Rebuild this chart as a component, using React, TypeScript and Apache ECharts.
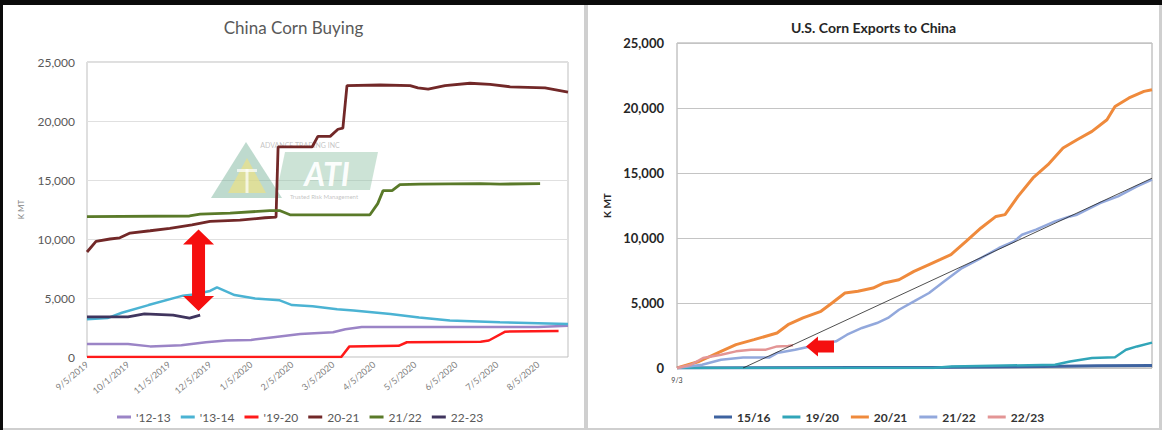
import React, { useEffect, useRef } from "react";
import * as echarts from "echarts";

const FONT = "Lato, 'Open Sans', 'DejaVu Sans', sans-serif";

type Pt = [number, number];

// ---------- China Corn Buying ----------
// x is measured in tick-label steps starting at 9/5/2019
const buyingTickLabels = [
  "9/5/2019", "10/1/2019", "11/5/2019", "12/5/2019", "1/5/2020", "2/5/2020",
  "3/5/2020", "4/5/2020", "5/5/2020", "6/5/2020", "7/5/2020", "8/5/2020",
];
const buyingXMax = 11.73;

const buying1213: Pt[] = [
  [0, 1100], [1.0, 1100], [1.54, 900], [2.3, 1000], [2.9, 1250], [3.4, 1400],
  [4.0, 1450], [4.6, 1700], [5.2, 1950], [6.0, 2100], [6.3, 2350], [6.7, 2550],
  [11.0, 2550], [11.73, 2650],
];
const buying1314: Pt[] = [
  [0, 3200], [0.5, 3300], [0.85, 3750], [1.5, 4400], [2.34, 5200], [2.6, 5300],
  [3.0, 5600], [3.17, 5900], [3.6, 5250], [4.1, 4950], [4.7, 4800], [5.0, 4400],
  [5.5, 4300], [6.1, 4050], [6.5, 3950], [7.4, 3650], [8.1, 3350], [8.85, 3100],
  [10.07, 2950], [11.73, 2800],
];
const buying1920: Pt[] = [
  [0, 0], [6.2, 0], [6.4, 900], [7.6, 950], [7.8, 1250], [9.6, 1300],
  [9.8, 1400], [10.2, 2150], [11.5, 2200],
];
const buying2021: Pt[] = [
  [0, 8900], [0.22, 9800], [0.56, 10000], [0.8, 10100], [1.05, 10500],
  [1.54, 10700], [2.02, 10900], [2.56, 11200], [3.0, 11500], [3.73, 11600],
  [4.34, 11800], [4.61, 11850], [4.66, 17800], [5.49, 17800], [5.63, 18700],
  [5.93, 18700], [6.12, 19300], [6.24, 19400], [6.34, 23000], [7.15, 23050],
  [7.88, 23000], [8.07, 22800], [8.32, 22700], [8.73, 23000], [9.34, 23200],
  [9.83, 23100], [10.32, 22900], [11.17, 22800], [11.73, 22450],
];
const buying2122: Pt[] = [
  [0, 11900], [2.5, 11950], [2.76, 12100], [3.49, 12200], [4.46, 12400],
  [4.71, 12400], [4.95, 12050], [6.9, 12050], [7.09, 13000], [7.22, 14100],
  [7.44, 14100], [7.63, 14600], [8.12, 14650], [9.59, 14700], [10.07, 14650],
  [11.05, 14700],
];
const buying2223: Pt[] = [
  [0, 3400], [1.0, 3400], [1.4, 3650], [2.1, 3550], [2.5, 3300], [2.76, 3550],
];

// double-headed arrow spanning the gap between 20-21 and '13-14
const gapArrow = { x: 2.72, top: 10800, bottom: 3900 };

// ---------- U.S. Corn Exports to China ----------
// x is weeks since 9/3
const exportTickLabels = ["9/3"];
const exportWeeks = 52;

const exports1516: Pt[] = [[0, 0], [30, 50], [40, 120], [46, 180], [52, 200]];
const exports1920: Pt[] = [
  [0, 0], [28, 0], [30, 120], [41.38, 250], [43.02, 500], [45.43, 770],
  [47.95, 820], [49.15, 1400], [50.36, 1660], [52, 1950],
];
const exports2021: Pt[] = [
  [0, 0], [2.41, 500], [4.82, 1280], [6.46, 1800], [8.43, 2180], [10.95, 2690],
  [12.15, 3330], [13.79, 3850], [15.76, 4360], [16.97, 5000], [18.39, 5770],
  [19.81, 5900], [21.46, 6150], [22.66, 6540], [24.3, 6790], [25.94, 7430],
  [27.59, 7950], [28.79, 8330], [29.99, 8720], [31.64, 9740], [33.28, 10770],
  [34.92, 11660], [35.91, 11800], [37.33, 13200], [38.97, 14620], [40.61, 15640],
  [42.26, 16920], [43.79, 17560], [45.43, 18200], [47.07, 19100], [47.95, 20120],
  [49.48, 20770], [51.12, 21280], [52, 21410],
];
const exports2122: Pt[] = [
  [0, 0], [2.74, 250], [4.82, 640], [7.23, 800], [10.07, 800], [10.95, 1150],
  [12.92, 1400], [14.56, 1660], [17.41, 2050], [18.61, 2560], [20.25, 3080],
  [21.89, 3460], [23.1, 3850], [24.3, 4480], [25.94, 5120], [27.59, 5770],
  [29.23, 6660], [31.2, 7690], [33.28, 8460], [35.25, 9230], [36.89, 9740],
  [37.77, 10250], [39.3, 10640], [41.38, 11280], [43.02, 11660], [43.79, 11790],
  [46.31, 12690], [48.28, 13200], [50.36, 13970], [52, 14490],
];
const exports2223: Pt[] = [
  [0, 0], [1.53, 250], [2.85, 770], [4.82, 1020], [6.46, 1280], [8.1, 1410],
  [9.74, 1410], [10.95, 1660], [12.15, 1700], [12.7, 1750],
];
const exportTrend: Pt[] = [[7.23, 0], [52, 14600]];

// left-pointing arrow marking the current season
const pointerArrow = { x: 14.12, y: 1660 };

const line = (name: string, data: Pt[], color: string, width: number) => ({
  type: "line",
  name,
  data,
  showSymbol: false,
  symbol: "none",
  silent: true,
  lineStyle: { color, width },
  itemStyle: { color },
  z: 3,
});

const thousands = (v: number) => v.toLocaleString("en-US");

const buyingOption = {
  animation: false,
  textStyle: { fontFamily: FONT },
  title: {
    text: "China Corn Buying",
    left: "center",
    top: 9,
    textStyle: { fontFamily: FONT, fontSize: 17, fontWeight: "normal", color: "#595959" },
  },
  grid: { left: 84, top: 57, width: 481, height: 295, show: true, borderColor: "#bfbfbf", borderWidth: 1 },
  xAxis: {
    type: "value",
    min: 0,
    max: buyingXMax,
    interval: 1,
    axisLine: { show: false },
    axisTick: { show: false },
    splitLine: { show: false },
    axisLabel: {
      rotate: 40,
      fontSize: 9,
      color: "#7f7f7f",
      margin: 6,
      showMaxLabel: false,
      formatter: (v: number) => (Number.isInteger(v) ? buyingTickLabels[v] ?? "" : ""),
    },
  },
  yAxis: {
    type: "value",
    min: 0,
    max: 25000,
    interval: 5000,
    name: "K MT",
    nameLocation: "middle",
    nameGap: 62,
    nameTextStyle: { fontSize: 8, color: "#7f7f7f" },
    axisLine: { show: false },
    axisTick: { show: false },
    splitLine: { lineStyle: { color: "#e0e0e0" } },
    axisLabel: { fontSize: 12, color: "#595959", margin: 12, formatter: thousands },
  },
  legend: {
    left: 109,
    top: 401,
    icon: "rect",
    itemWidth: 14,
    itemHeight: 3,
    itemGap: 10,
    textStyle: { fontFamily: FONT, fontSize: 12, color: "#595959" },
    data: ["'12-13", "'13-14", "'19-20", "20-21", "21/22", "22-23"],
  },
  series: [
    line("'12-13", buying1213, "#9b84c6", 2.5),
    line("'13-14", buying1314, "#4bb3d3", 2.5),
    line("'19-20", buying1920, "#ff1a1a", 2.5),
    line("20-21", buying2021, "#722828", 2.8),
    line("21/22", buying2122, "#5a7a29", 2.8),
    line("22-23", buying2223, "#40355e", 2.8),
  ],
};

const exportsOption = {
  animation: false,
  textStyle: { fontFamily: FONT },
  title: {
    text: "U.S. Corn Exports to China",
    left: "center",
    top: 10,
    textStyle: { fontFamily: FONT, fontSize: 14, fontWeight: "bold", color: "#262626" },
  },
  grid: { left: 89, top: 38, width: 475, height: 325, show: true, borderColor: "#a6a6a6", borderWidth: 1 },
  xAxis: {
    type: "value",
    min: 0,
    max: exportWeeks,
    interval: exportWeeks,
    axisLine: { show: false },
    axisTick: { show: false },
    splitLine: { show: false },
    axisLabel: {
      fontSize: 7,
      color: "#404040",
      margin: 8,
      showMaxLabel: false,
      formatter: (v: number) => (v === 0 ? exportTickLabels[0] : ""),
    },
  },
  yAxis: {
    type: "value",
    min: 0,
    max: 25000,
    interval: 5000,
    name: "K MT",
    nameLocation: "middle",
    nameGap: 60,
    nameTextStyle: { fontSize: 10, fontWeight: "bold", color: "#262626" },
    axisLine: { show: false },
    axisTick: { show: false },
    splitLine: { lineStyle: { color: "#c4c4c4" } },
    axisLabel: { fontSize: 13, fontWeight: "bold", color: "#262626", margin: 13, formatter: thousands },
  },
  legend: {
    left: 121,
    top: 401,
    icon: "rect",
    itemWidth: 18,
    itemHeight: 3,
    itemGap: 12,
    textStyle: { fontFamily: FONT, fontSize: 12, fontWeight: "bold", color: "#333333" },
    data: ["15/16", "19/20", "20/21", "21/22", "22/23"],
  },
  series: [
    line("15/16", exports1516, "#3e63a0", 3),
    line("19/20", exports1920, "#31a5b8", 2.5),
    line("20/21", exports2021, "#ef8a3c", 3),
    line("21/22", exports2122, "#92a8dc", 2.5),
    line("22/23", exports2223, "#e39595", 2.5),
    { ...line("trend", exportTrend, "#222222", 0.8), z: 4 },
  ],
};

// faint company logo sitting behind the left plot
const watermark = () => ({
  type: "group",
  silent: true,
  z: 1,
  children: [
    { type: "polygon", shape: { points: [[243, 137], [208, 193], [279, 193]] }, style: { fill: "#6fae93", opacity: 0.45 } },
    { type: "polygon", shape: { points: [[244, 153], [225, 188], [263, 188]] }, style: { fill: "#f3e37a", opacity: 0.6 } },
    { type: "rect", shape: { x: 234, y: 164, width: 20, height: 3 }, style: { fill: "#ffffff", opacity: 0.7 } },
    { type: "rect", shape: { x: 242.5, y: 164, width: 3, height: 24 }, style: { fill: "#ffffff", opacity: 0.7 } },
    { type: "polygon", shape: { points: [[282, 147], [375, 147], [367, 185], [274, 185]] }, style: { fill: "#8fc1a5", opacity: 0.45 } },
    {
      type: "text",
      x: 324,
      y: 168,
      style: { text: "ATI", fill: "#ffffff", opacity: 0.95, fontSize: 32, fontWeight: "bold", fontStyle: "italic", fontFamily: FONT, align: "center", verticalAlign: "middle" },
    },
    {
      type: "text",
      x: 297,
      y: 140,
      style: { text: "ADVANCE TRADING INC", fill: "#9a9a9a", opacity: 0.6, fontSize: 7, fontFamily: FONT, align: "center", verticalAlign: "middle" },
    },
    {
      type: "text",
      x: 321,
      y: 191,
      style: { text: "Trusted Risk Management", fill: "#9a9a9a", opacity: 0.6, fontSize: 6, fontFamily: FONT, align: "center", verticalAlign: "middle" },
    },
  ],
});

const buyingOverlay = (chart: any) => {
  const [cx, t] = chart.convertToPixel({ gridIndex: 0 }, [gapArrow.x, gapArrow.top]);
  const [, b] = chart.convertToPixel({ gridIndex: 0 }, [gapArrow.x, gapArrow.bottom]);
  const hw = 15.5, sw = 6.5, hh = 15;
  return [
    watermark(),
    {
      type: "polygon",
      silent: true,
      z: 10,
      shape: {
        points: [
          [cx, t], [cx - hw, t + hh], [cx - sw, t + hh], [cx - sw, b - hh], [cx - hw, b - hh],
          [cx, b], [cx + hw, b - hh], [cx + sw, b - hh], [cx + sw, t + hh], [cx + hw, t + hh],
        ],
      },
      style: { fill: "#f50f0f" },
    },
  ];
};

const exportsOverlay = (chart: any) => {
  const [tx, ty] = chart.convertToPixel({ gridIndex: 0 }, [pointerArrow.x, pointerArrow.y]);
  const hl = 12, len = 28, hh = 10, sh = 6;
  return [
    {
      type: "polygon",
      silent: true,
      z: 10,
      shape: {
        points: [
          [tx, ty], [tx + hl, ty - hh], [tx + hl, ty - sh], [tx + len, ty - sh],
          [tx + len, ty + sh], [tx + hl, ty + sh], [tx + hl, ty + hh],
        ],
      },
      style: { fill: "#f50f0f" },
    },
  ];
};

function EChart({ option, overlay, style }: { option: any; overlay: (c: any) => any[]; style: React.CSSProperties }) {
  const ref = useRef<HTMLDivElement>(null);
  useEffect(() => {
    const chart = echarts.init(ref.current!, undefined, { renderer: "svg" });
    chart.setOption(option);
    chart.setOption({ graphic: { elements: overlay(chart) } });
    return () => chart.dispose();
  }, [option, overlay]);
  return <div ref={ref} style={style} />;
}

export default function App() {
  return (
    <div style={{ position: "fixed", left: 0, top: 0, width: 1162, height: 430, background: "#cfcfcf", overflow: "hidden" }}>
      <div style={{ position: "absolute", left: 0, top: 0, width: 1162, height: 5, background: "#0b0b0b" }} />
      <div style={{ position: "absolute", left: 0, top: 0, width: 3, height: 430, background: "#0b0b0b" }} />
      <EChart
        option={buyingOption}
        overlay={buyingOverlay}
        style={{ position: "absolute", left: 3, top: 5, width: 581, height: 423, background: "#ffffff" }}
      />
      <EChart
        option={exportsOption}
        overlay={exportsOverlay}
        style={{ position: "absolute", left: 588, top: 5, width: 571, height: 423, background: "#ffffff" }}
      />
    </div>
  );
}
